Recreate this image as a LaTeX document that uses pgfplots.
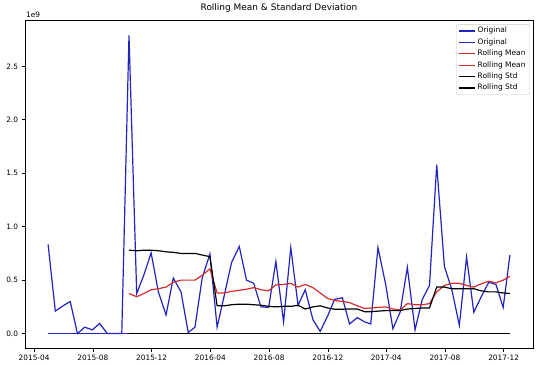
\documentclass[border=0pt]{standalone}
\usepackage{fontspec}
\setmainfont{DejaVu Sans}
\usepackage{pgfplots}
\usepackage{pgfplotstable}
\pgfplotsset{compat=1.18}
\definecolor{mblue}{RGB}{35,35,190}
\definecolor{mred}{RGB}{210,45,45}

% day = days since 2015-04-01 (semi-monthly dates); values in units of 1e9
\pgfplotstableread{
day orig z
29 0.835 0
44 0.21 0
60 0.26 0
75 0.30 0
90 0.00 0
105 0.06 0
121 0.035 0
136 0.095 0
152 0.00 0
167 0.00 0
182 0.00 0
197 2.79 0
213 0.375 0
228 0.55 0
243 0.755 0
258 0.39 0
274 0.175 0
289 0.52 0
305 0.39 0
320 0.01 0
334 0.06 0
349 0.52 0
365 0.745 0
380 0.06 0
395 0.36 0
410 0.665 0
426 0.815 0
441 0.50 0
456 0.47 0
471 0.25 0
487 0.245 0
502 0.675 0
518 0.11 0
533 0.805 0
548 0.265 0
563 0.41 0
579 0.13 0
594 0.02 0
609 0.16 0
624 0.32 0
640 0.335 0
655 0.09 0
671 0.15 0
686 0.11 0
699 0.09 0
714 0.805 0
730 0.46 0
745 0.045 0
760 0.20 0
775 0.62 0
791 0.035 0
806 0.32 0
821 0.45 0
836 1.58 0
852 0.625 0
867 0.42 0
883 0.077 0
898 0.715 0
913 0.20 0
928 0.34 0
944 0.48 0
959 0.46 0
974 0.245 0
988 0.735 0
}\origtab

\pgfplotstableread{
day mean std z
197 0.375 0.78 0
213 0.345 0.775 0
228 0.375 0.78 0
243 0.41 0.78 0
258 0.42 0.775 0
274 0.435 0.765 0
289 0.48 0.76 0
305 0.50 0.75 0
320 0.50 0.75 0
334 0.50 0.75 0
349 0.545 0.735 0
365 0.605 0.72 0
380 0.38 0.26 0
395 0.38 0.26 0
410 0.395 0.27 0
426 0.405 0.275 0
441 0.415 0.275 0
456 0.43 0.27 0
471 0.41 0.265 0
487 0.40 0.255 0
502 0.455 0.25 0
518 0.46 0.255 0
533 0.47 0.255 0
548 0.435 0.265 0
563 0.46 0.23 0
579 0.43 0.25 0
594 0.38 0.26 0
609 0.33 0.24 0
624 0.31 0.228 0
640 0.30 0.228 0
655 0.29 0.23 0
671 0.26 0.23 0
686 0.235 0.205 0
699 0.24 0.205 0
714 0.245 0.21 0
730 0.25 0.215 0
745 0.23 0.215 0
760 0.22 0.215 0
775 0.28 0.23 0
791 0.27 0.235 0
806 0.27 0.24 0
821 0.28 0.24 0
836 0.39 0.435 0
852 0.45 0.435 0
867 0.47 0.42 0
883 0.47 0.42 0
898 0.45 0.42 0
913 0.435 0.42 0
928 0.465 0.40 0
944 0.49 0.39 0
959 0.475 0.39 0
974 0.50 0.38 0
988 0.535 0.375 0
}\rolltab

\begin{document}
\begin{tikzpicture}
\begin{axis}[
  at={(0,0)}, anchor=south west,
  scale only axis, width=508bp, height=328bp,
  xmin=-18.95, xmax=1035.95, ymin=-0.1395, ymax=2.929,
  xtick={0,122,244,366,488,610,731,853,975},
  xticklabels={2015-04,2015-08,2015-12,2016-04,2016-08,2016-12,2017-04,2017-08,2017-12},
  ytick={0,0.5,1,1.5,2,2.5},
  scaled ticks=false,
  yticklabel style={/pgf/number format/fixed, /pgf/number format/fixed zerofill, /pgf/number format/precision=1},
  /pgf/number format/assume math mode=true,
  tick align=outside, major tick length=3.5bp,
  xtick pos=lower, ytick pos=left,
  tick style={black, line width=0.6bp},
  axis line style={line width=0.6bp},
  tick label style={font=\fontsize{7.4}{8}\selectfont},
  title={Rolling Mean \& Standard Deviation},
  title style={font=\fontsize{9}{10}\selectfont, at={(0.5,1)}, anchor=base, yshift=4bp, inner sep=0pt},
  legend style={at={(0.994,0.989)}, anchor=north east, draw=black!20, rounded corners=2bp,
    fill=white, fill opacity=0.8, text opacity=1, font=\fontsize{7.5}{8}\selectfont,
    inner xsep=2bp, inner ysep=1bp,
    nodes={inner sep=2.2bp, text height=5.4bp, text depth=1.6bp}},
  legend cell align=left,
  legend image code/.code={\draw[line width=1.2bp, sharp corners, #1] (0bp,0bp) -- (16bp,0bp);},
]
\addplot[mblue, line width=1.2bp, no markers] table[x=day, y=orig] {\origtab};
\addlegendentry{Original}
\addplot[mblue, line width=1.2bp, no markers] table[x=day, y=z] {\origtab};
\addlegendentry{Original}
\addplot[mred, line width=1.2bp, no markers] table[x=day, y=mean] {\rolltab};
\addlegendentry{Rolling Mean}
\addplot[mred, line width=1.2bp, no markers] table[x=day, y=z] {\rolltab};
\addlegendentry{Rolling Mean}
\addplot[black, line width=1.2bp, no markers] table[x=day, y=std] {\rolltab};
\addlegendentry{Rolling Std}
\addplot[black, line width=1.2bp, no markers] table[x=day, y=z] {\rolltab};
\addlegendentry{Rolling Std}
\end{axis}
\node[anchor=base west, inner sep=0pt, font=\fontsize{7.4}{8}\selectfont] at ([xshift=1bp,yshift=2.8bp]current axis.north west) {1e9};
\pgfresetboundingbox
\useasboundingbox (-25bp,-16.5bp) rectangle (515bp,348.5bp);
\end{tikzpicture}
\end{document}
